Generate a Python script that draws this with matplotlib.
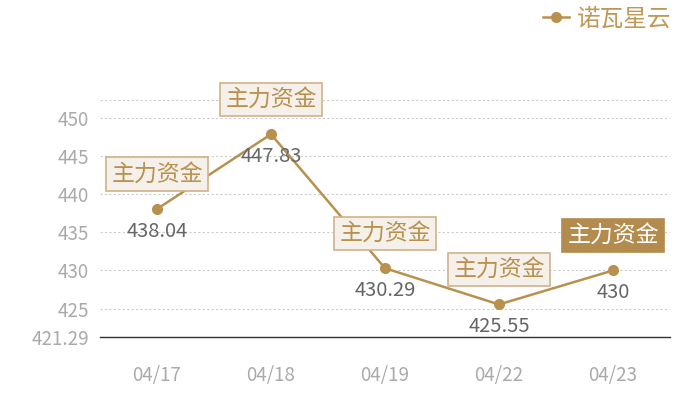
import matplotlib
matplotlib.use("Agg")
import matplotlib.pyplot as plt
import numpy as np

plt.rcParams['font.family'] = ['Noto Sans CJK SC', 'DejaVu Sans']

dates = ["04/17", "04/18", "04/19", "04/22", "04/23"]
values = [438.04, 447.83, 430.29, 425.55, 430]
series_name = "诺瓦星云"
tag_text = "主力资金"
y_ticks = [425, 430, 435, 440, 445, 450]

gold = "#b8914f"
fig = plt.figure(figsize=(7, 4), dpi=100)
ax = fig.add_axes([100/700, 63/400, 570/700, 237/400])

x = np.arange(len(dates))
ymin = round(min(values) * 0.99, 2)
ymax = round(max(values) * 1.01, 2)

ax.plot(x, values, color=gold, lw=1.8, marker='o', ms=7, label=series_name, zorder=3)
ax.set_xlim(-0.5, len(dates) - 0.5)
ax.set_ylim(ymin, ymax)

ticks = [ymin] + y_ticks + [ymax]
ax.set_yticks(ticks)
ax.set_yticklabels([f"{ymin:g}"] + [str(t) for t in y_ticks] + [""])
ax.set_xticks(x)
ax.set_xticklabels(dates)
ax.tick_params(axis='both', length=0, labelsize=13.5, colors="#aaaaaa")
ax.tick_params(axis='x', pad=20)
ax.tick_params(axis='y', pad=8)
ax.grid(axis='y', color="#cccccc", ls=(0, (2, 2)), lw=0.8)
for s in ['top', 'right', 'left']:
    ax.spines[s].set_visible(False)
ax.spines['bottom'].set_color("#333333")
ax.spines['bottom'].set_linewidth(1)

for i, v in enumerate(values):
    ax.annotate(f"{v:g}", (x[i], v), xytext=(0, -22), textcoords='offset pixels',
                ha='center', va='center', fontsize=14.5, color="#666666", zorder=4)
    last = i == len(values) - 1
    ax.annotate(tag_text, (x[i], v), xytext=(0, 35), textcoords='offset pixels',
                ha='center', va='center', fontsize=16.5,
                color="white" if last else gold, zorder=5,
                bbox=dict(boxstyle='square,pad=0.22',
                          fc="#b38b4c" if last else "#f5f0ea",
                          ec="#b38b4c" if last else "#d0b38a", lw=1.2))

leg = fig.legend(loc='upper right', bbox_to_anchor=(0.99, 1.035), frameon=False,
                 fontsize=17, handlelength=1.1, handletextpad=0.35,
                 labelcolor="#bf9858")

fig.savefig("out.png", dpi=100)
